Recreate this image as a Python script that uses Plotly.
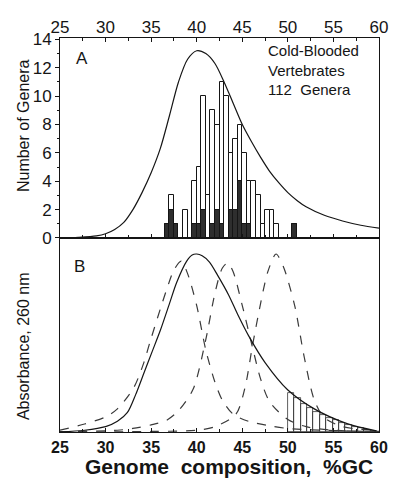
import plotly.graph_objects as go

# ---------------- data ----------------
# Panel A histogram (bin centres, %GC; bins 0.5 wide)
bin_gc = [36.75, 37.25, 37.75, 38.75, 39.75, 40.25, 40.75, 41.25, 41.75, 42.25,
          42.75, 43.25, 43.75, 44.25, 44.75, 45.25, 45.75, 46.25, 46.75, 47.25,
          47.75, 48.25, 48.75, 50.75]
total_genera = [1, 3, 1, 2, 4, 5, 10, 3, 9, 8,
                11, 10, 6, 7, 8, 6, 4, 4, 3, 1,
                2, 2, 1, 1]
dark_genera = [1, 2, 1, 0, 1, 1, 2, 0, 1, 2,
               1, 0, 2, 2, 4, 1, 1, 0, 0, 0,
               0, 0, 0, 1]

# Panel A smooth curve
curveA_gc = [25, 27, 29, 30, 31, 32, 33, 34, 35, 36, 37, 38, 39, 40, 41, 42, 43,
             44, 45, 46, 47, 48, 49, 50, 51, 52, 54, 56, 58, 60]
curveA_val = [0.0, 0.05, 0.15, 0.3, 0.6, 1.1, 2.0, 3.2, 4.6, 6.3, 8.6, 11.0, 12.6,
              13.2, 13.0, 12.3, 11.0, 9.5, 8.0, 6.8, 5.7, 4.7, 3.9, 3.2, 2.65,
              2.2, 1.6, 1.2, 0.9, 0.7]

# Panel B solid curve (relative absorbance)
solidB_gc = [25, 27.7, 30, 31.3, 32.4, 33.3, 34.2, 35.1, 36, 37, 37.8, 38.9, 39.5,
             40, 40.6, 41.4, 42.3, 43.5, 44.5, 45.7, 47.5, 50, 52.9, 56.5, 59.7]
solidB_val = [0.0, 0.01, 0.03, 0.06, 0.11, 0.21, 0.33, 0.45, 0.57, 0.72, 0.84,
              0.96, 0.995, 1.0, 0.99, 0.955, 0.88, 0.77, 0.66, 0.54, 0.39, 0.236,
              0.13, 0.047, 0.006]

# Panel B dashed component curves
dash1_gc = [25, 27.7, 30, 31.3, 33.1, 34.2, 34.9, 36, 36.7, 37.5, 38.3, 39, 40,
            41, 42, 42.8, 44, 45.7, 48, 50, 55, 60]
dash1_val = [0.01, 0.045, 0.085, 0.13, 0.25, 0.39, 0.51, 0.69, 0.8, 0.91, 0.96,
             0.89, 0.71, 0.46, 0.28, 0.18, 0.1, 0.06, 0.035, 0.02, 0.008, 0.003]

dash2_gc = [25, 31.3, 33, 35, 36.7, 38, 39.6, 41, 42, 42.8, 43.4, 44, 45, 46.1,
            47, 48, 50, 52, 55, 60]
dash2_val = [0.002, 0.01, 0.02, 0.04, 0.066, 0.12, 0.24, 0.52, 0.78, 0.92, 0.95,
             0.9, 0.71, 0.48, 0.3, 0.17, 0.07, 0.03, 0.01, 0.003]

dash3_gc = [25, 35, 40, 42, 44.3, 45.3, 46.1, 47, 47.8, 48.7, 49.5, 50.75, 51.8,
            52.9, 54, 56, 58, 60]
dash3_val = [0.0, 0.003, 0.01, 0.03, 0.1, 0.25, 0.48, 0.72, 0.9, 1.0, 0.93, 0.71,
             0.42, 0.18, 0.08, 0.03, 0.015, 0.01]

# Panel B hatched region (strips under the curve above 50 %GC)
hatch_gc = [50.35, 51.05, 51.75, 52.45, 53.15, 53.85, 54.55, 55.25, 55.95,
            56.65, 57.35, 58.05, 58.75, 59.45]
hatch_val = [0.22, 0.19, 0.16, 0.135, 0.115, 0.095, 0.08, 0.065, 0.05, 0.04,
             0.03, 0.02, 0.012, 0.005]

x_ticks = [25, 30, 35, 40, 45, 50, 55, 60]
y_ticks_A = [0, 2, 4, 6, 8, 10, 12, 14]

# ---------------- figure ----------------
FONT = "Liberation Sans, Arial, sans-serif"
INK = "#151515"

fig = go.Figure()

fig.add_trace(go.Bar(x=bin_gc, y=total_genera, width=0.5,
                     marker=dict(color="white", line=dict(color=INK, width=1)),
                     xaxis="x", yaxis="y", showlegend=False))
fig.add_trace(go.Bar(x=bin_gc, y=dark_genera, width=0.5,
                     marker=dict(color="#2e2e2e", line=dict(color=INK, width=1)),
                     xaxis="x", yaxis="y", showlegend=False))
fig.add_trace(go.Scatter(x=curveA_gc, y=curveA_val, mode="lines",
                         line=dict(color=INK, width=1.2, shape="spline", smoothing=0.8),
                         xaxis="x", yaxis="y", showlegend=False))

fig.add_trace(go.Bar(x=hatch_gc, y=hatch_val, width=0.7,
                     marker=dict(color="rgba(255,255,255,0)", line=dict(color="#333", width=0.8)),
                     xaxis="x2", yaxis="y2", showlegend=False))
for gx, gy in [(dash1_gc, dash1_val), (dash2_gc, dash2_val), (dash3_gc, dash3_val)]:
    fig.add_trace(go.Scatter(x=gx, y=gy, mode="lines",
                             line=dict(color="#3a3a3a", width=1.2, dash="dash",
                                       shape="spline", smoothing=0.8),
                             xaxis="x2", yaxis="y2", showlegend=False))
fig.add_trace(go.Scatter(x=solidB_gc, y=solidB_val, mode="lines",
                         line=dict(color=INK, width=1.2, shape="spline", smoothing=0.8),
                         xaxis="x2", yaxis="y2", showlegend=False))

split = 0.4924
axis_common = dict(showline=True, linecolor=INK, linewidth=1, showgrid=False,
                   zeroline=False, tickcolor=INK)

fig.update_layout(
    width=400, height=481,
    margin=dict(l=60, r=12, t=38, b=49),
    paper_bgcolor="white", plot_bgcolor="white",
    barmode="overlay", bargap=0,
    font=dict(family=FONT, color=INK, size=16),
    xaxis=dict(**axis_common, domain=[0, 1], anchor="y", side="top",
               range=[25, 60], tickvals=x_ticks, ticks="inside", ticklen=4,
               mirror="ticks", ticklabelstandoff=-3,
               minor=dict(dtick=2.5, tick0=25, ticks="inside", ticklen=3, tickcolor=INK),
               tickfont=dict(size=17, family=FONT)),
    yaxis=dict(**axis_common, domain=[split, 1], anchor="x",
               range=[0, 14.1], tickvals=y_ticks_A, ticks="outside", ticklen=4,
               mirror=True,
               minor=dict(dtick=1, ticks="outside", ticklen=2, tickcolor=INK),
               tickfont=dict(size=17, family=FONT)),
    xaxis2=dict(**axis_common, domain=[0, 1], anchor="y2", side="bottom",
                range=[25, 60], tickvals=x_ticks,
                ticktext=["<b>%d</b>" % v for v in x_ticks],
                ticks="inside", ticklen=4, mirror=True, ticklabelstandoff=1,
                minor=dict(dtick=2.5, tick0=25, ticks="inside", ticklen=3, tickcolor=INK),
                tickfont=dict(size=16, family=FONT)),
    yaxis2=dict(**axis_common, domain=[0, split], anchor="x2",
                range=[0, 1.09], showticklabels=False, ticks="", mirror=True),
    annotations=[
        dict(text="Number of Genera", xref="paper", yref="paper", x=-0.116, y=0.779,
             textangle=-90, showarrow=False, font=dict(size=16), xanchor="center", yanchor="middle"),
        dict(text="Absorbance, 260 nm", xref="paper", yref="paper", x=-0.116, y=0.218,
             textangle=-90, showarrow=False, font=dict(size=16), xanchor="center", yanchor="middle"),
        dict(text="A", xref="paper", yref="paper", x=0.070, y=0.947, showarrow=False,
             font=dict(size=17), xanchor="center", yanchor="middle"),
        dict(text="B", xref="paper", yref="paper", x=0.061, y=0.419, showarrow=False,
             font=dict(size=17), xanchor="center", yanchor="middle"),
        dict(text="Cold-Blooded<br>Vertebrates<br>112\u00a0 Genera", xref="paper", yref="paper",
             x=0.646, y=0.995, showarrow=False, xanchor="left", yanchor="top", align="left",
             font=dict(size=15)),
        dict(text="<b>Genome\u00a0 composition,\u00a0 %GC</b>", xref="paper", yref="paper",
             x=0.53, y=-0.1225, showarrow=False, xanchor="center", yanchor="bottom",
             font=dict(size=21)),
    ],
)

fig.write_html("out.html",
               config={"displayModeBar": False},
               post_script=("document.documentElement.style.margin='0px';"
                            "document.documentElement.style.overflow='hidden';"
                            "document.body.style.margin='0px';"
                            "document.body.style.padding='0px';"
                            "document.body.style.overflow='hidden';"))
